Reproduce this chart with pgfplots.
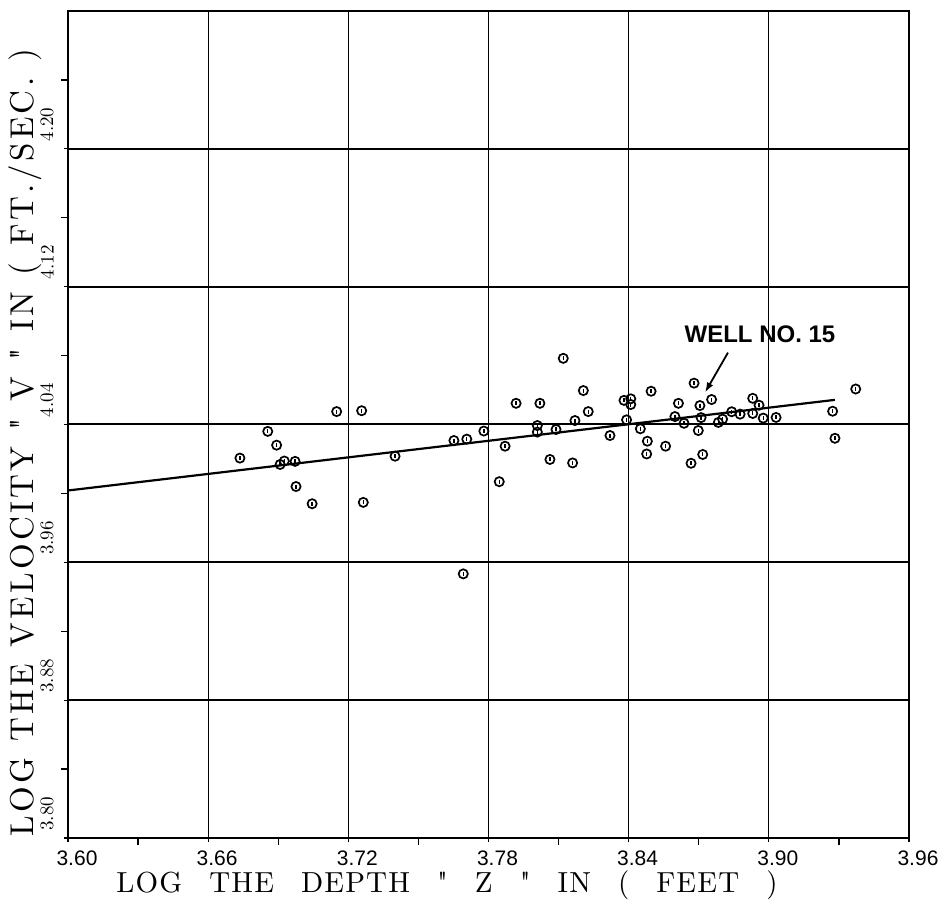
\documentclass[border=0pt]{standalone}
\usepackage{fontspec}
\usepackage{pgfplots}
\usepackage{pgfplotstable}
\pgfplotsset{compat=1.18}
\usetikzlibrary{arrows.meta}
\newfontfamily\plotfont{Liberation Sans}
\newfontfamily\xlabfont{lmroman10-regular.otf}[LetterSpace=4,WordSpace=2.5]
\newfontfamily\ylabfont{lmroman10-regular.otf}[LetterSpace=10,WordSpace=1.15]
\pgfplotstableread{
x y
3.6736 4.0205
3.6855 4.0360
3.6893 4.0280
3.6908 4.0168
3.6926 4.0188
3.6972 4.0186
3.6976 4.0040
3.7045 3.9940
3.7150 4.0475
3.7257 4.0480
3.7264 3.9948
3.7400 4.0216
3.7652 4.0307
3.7692 3.9533
3.7707 4.0315
3.7780 4.0362
3.7846 4.0068
3.7871 4.0274
3.7918 4.0523
3.8009 4.0394
3.8009 4.0356
3.8020 4.0523
3.8063 4.0197
3.8089 4.0371
3.8120 4.0784
3.8160 4.0177
3.8170 4.0423
3.8206 4.0597
3.8227 4.0475
3.8320 4.0336
3.8380 4.0540
3.8409 4.0549
3.8409 4.0516
3.8391 4.0427
3.8450 4.0375
3.8480 4.0303
3.8477 4.0229
3.8496 4.0593
3.8558 4.0274
3.8598 4.0446
3.8613 4.0523
3.8637 4.0407
3.8667 4.0175
3.8680 4.0640
3.8698 4.0365
3.8705 4.0510
3.8710 4.0440
3.8717 4.0226
3.8755 4.0545
3.8784 4.0412
3.8802 4.0431
3.8841 4.0474
3.8877 4.0460
3.8931 4.0552
3.8931 4.0464
3.8958 4.0512
3.8976 4.0437
3.9031 4.0441
3.9273 4.0477
3.9283 4.0320
3.9372 4.0606
}\wells
\begin{document}
\begin{tikzpicture}
\begin{axis}[
  width=420.5pt, height=413.5pt, scale only axis,
  xmin=3.60, xmax=3.96, ymin=3.80, ymax=4.28,
  clip=false,
  xtick={3.60,3.66,3.72,3.78,3.84,3.90,3.96},
  xticklabels={3.60,3.66,3.72,3.78,3.84,3.90,3.96},
  minor xtick={3.63,3.69,3.75,3.81,3.87,3.93},
  ytick={3.80,3.88,3.96,4.04,4.12,4.20},
  yticklabels={3.80,3.88,3.96,4.04,4.12,4.20},
  minor ytick={3.84,3.92,4.00,4.08,4.16,4.24},
  xmajorgrids, ymajorgrids,
  major x grid style={black, line width=0.55pt},
  major y grid style={black, line width=1pt},
  tick align=outside, xtick pos=bottom, ytick pos=left,
  major tick length=2pt, minor tick length=3.5pt,
  tick style={black, line width=0.6pt},
  axis line style={line width=0.9pt},
  xticklabel style={font=\plotfont\fontsize{10.5}{12}\selectfont, inner sep=0pt, anchor=north, xshift=4.5pt, yshift=-4pt},
  yticklabel style={font=\fontsize{9.5}{11}\selectfont, inner sep=0pt, xshift=-5pt, yshift=3.5pt, rotate=90, anchor=south west},
  xlabel={LOG THE DEPTH \textquotedbl{} Z \textquotedbl{} IN ( FEET )},
  ylabel={LOG THE VELOCITY \textquotedbl{} V \textquotedbl{} IN ( FT./SEC. )},
  xlabel style={at={(axis description cs:0.4507,-0.057)}, anchor=center, font=\xlabfont\fontsize{14.5}{16}\selectfont},
  ylabel style={at={(axis description cs:-0.051,0.478)}, anchor=center, font=\ylabfont\fontsize{16.5}{18}\selectfont},
]
\path (rel axis cs:0,0) ++(-34pt,-33.5pt) rectangle ++(0.1pt,0.1pt);
\path (rel axis cs:1,1) ++(18.5pt,5.5pt) rectangle ++(-0.1pt,-0.1pt);
\addplot[line width=1.1pt, black] coordinates {(3.60,4.0017) (3.9283,4.0543)};
\addplot[only marks, mark=o, mark size=2.3pt, mark options={line width=0.85pt, fill=white}] table {\wells};
\addplot[only marks, mark=|, mark size=1pt, mark options={line width=0.7pt}] table {\wells};
\draw[line width=0.9pt, -{Latex[length=5pt,width=3.5pt]}] (axis cs:3.8825,4.0817) -- (axis cs:3.8727,4.0586);
\node[font=\plotfont\bfseries\fontsize{12}{14}\selectfont] at (axis cs:3.8962,4.0922) {WELL NO. 15};
\end{axis}
\end{tikzpicture}
\end{document}
